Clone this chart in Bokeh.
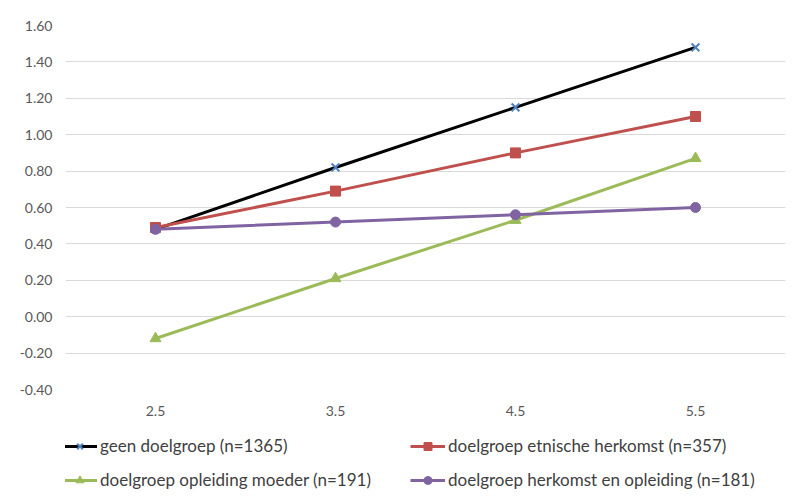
from bokeh.plotting import figure
from bokeh.layouts import column
from bokeh.models import Range1d, FactorRange, FixedTicker, Legend, LegendItem
from bokeh.embed import file_html
from bokeh.resources import INLINE

categories = ["2.5", "3.5", "4.5", "5.5"]
geen = [0.48, 0.82, 1.15, 1.48]
etnisch = [0.49, 0.69, 0.90, 1.10]
opleiding = [-0.12, 0.21, 0.53, 0.87]
herkomst_opleiding = [0.48, 0.52, 0.56, 0.60]
series_names = [
    "geen doelgroep (n=1365)",
    "doelgroep etnische herkomst (n=357)",
    "doelgroep opleiding moeder (n=191)",
    "doelgroep herkomst en opleiding (n=181)",
]
y_ticks = [-0.4, -0.2, 0.0, 0.2, 0.4, 0.6, 0.8, 1.0, 1.2, 1.4, 1.6]
y_tick_labels = ["-0.40", "-0.20", "0.00", "0.20", "0.40", "0.60", "0.80",
                 "1.00", "1.20", "1.40", "1.60"]

FONT = "Lato"
W = 796

p = figure(width=W, height=433, output_backend="svg", toolbar_location=None,
           x_range=FactorRange(*categories, range_padding=0),
           y_range=Range1d(-0.4, 1.6),
           min_border_left=65, min_border_right=11, min_border_top=25,
           min_border_bottom=44)
p.outline_line_color = None
p.background_fill_color = "white"
p.border_fill_color = "white"

p.xgrid.grid_line_color = None
p.ygrid.grid_line_color = "#d9d9d9"
p.ygrid.grid_line_width = 1.2

p.yaxis.ticker = FixedTicker(ticks=y_ticks)
p.yaxis.major_label_overrides = {t: l for t, l in zip(y_ticks, y_tick_labels)}
for ax in (p.xaxis, p.yaxis):
    ax.axis_line_color = None
    ax.major_tick_line_color = None
    ax.minor_tick_line_color = None
    ax.major_tick_out = 0
    ax.major_tick_in = 0
    ax.minor_tick_out = 0
    ax.major_label_text_font = FONT
    ax.major_label_text_font_size = "14px"
    ax.major_label_text_color = "#595959"
p.yaxis.major_label_standoff = 13
p.xaxis.major_label_standoff = 16

specs = [
    (geen, "#000000", "x", "#4F81BD", 11),
    (etnisch, "#C0504D", "square", "#C0504D", 10),
    (opleiding, "#9BBB59", "triangle", "#9BBB59", 11),
    (herkomst_opleiding, "#8064A2", "circle", "#8064A2", 10),
]
for vals, lc, marker, mc, ms in specs:
    p.line(categories, vals, line_color=lc, line_width=3)
    p.scatter(categories, vals, marker=marker, size=ms, fill_color=mc,
              line_color=mc, line_width=2 if marker == "x" else 1)

# Legend strip below the chart (same series, drawn outside its own view)
lg = figure(width=W, height=69, output_backend="svg", toolbar_location=None,
            x_range=FactorRange(*categories), y_range=Range1d(10, 11),
            x_axis_location=None, y_axis_location=None,
            min_border_left=0, min_border_right=0, min_border_top=0,
            min_border_bottom=0)
lg.grid.visible = False
lg.outline_line_color = None
items = []
for (vals, lc, marker, mc, ms), name in zip(specs, series_names):
    ln = lg.line(categories, vals, line_color=lc, line_width=3)
    mk = lg.scatter(categories, vals, marker=marker, size=ms - 1, fill_color=mc,
                    line_color=mc, line_width=2 if marker == "x" else 1)
    items.append(LegendItem(label=name, renderers=[ln, mk]))

legend = Legend(items=items, orientation="horizontal", ncols=2,
                location=(-3, 12), margin=0, padding=0,
                border_line_color=None, background_fill_alpha=0,
                glyph_width=35, glyph_height=20, label_height=20,
                label_width=297, label_standoff=3, spacing=13,
                label_text_font=FONT, label_text_font_size="17px",
                label_text_color="#404040")
lg.add_layout(legend, "center")

layout = column(p, lg, spacing=0)
open("out.html", "w").write(file_html(layout, INLINE))
